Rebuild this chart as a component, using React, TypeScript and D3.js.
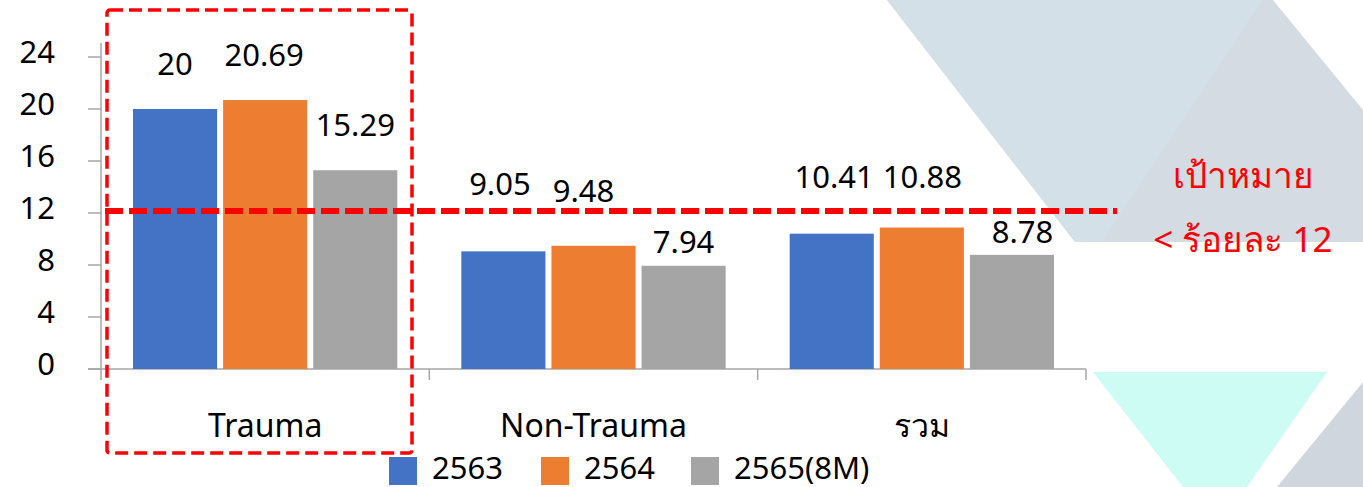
import React from "react";
import * as d3 from "d3";

const categories = ["Trauma", "Non-Trauma", "รวม"];
const seriesNames = ["2563", "2564", "2565(8M)"];
const values2563 = [20, 9.05, 10.41];
const values2564 = [20.69, 9.48, 10.88];
const values2565 = [15.29, 7.94, 8.78];
const yTicks = [0, 4, 8, 12, 16, 20, 24];
const targetValue = 12;
const targetLines = ["เป้าหมาย", "< ร้อยละ 12"];

const seriesValues = [values2563, values2564, values2565];
const colors = ["#4472c4", "#ed7d31", "#a5a5a5"];

// hand-placed data label nudges (dx, gap above bar top) per category/series
const labelNudge: [number, number][][] = [
  [[0, 34], [-1, 34], [0, 34]],
  [[-3.5, 56], [-10, 44], [0, 13]],
  [[2.5, 46], [0.5, 40], [10.5, 12]],
];

const W = 1363;
const H = 487;
const FONT = "'Noto Sans', 'Open Sans', sans-serif";

export default function App() {
  const x0 = d3.scaleBand<string>().domain(categories).range([101, 1086]).padding(0);
  const bw = x0.bandwidth();
  const x1 = d3
    .scaleBand<string>()
    .domain(seriesNames)
    .range([bw * 0.0975, bw * 0.9025])
    .paddingInner(1 / 15)
    .paddingOuter(0);
  const y = d3.scaleLinear().domain([0, 24]).range([369, 57]);
  const axisColor = "#a6a6a6";
  const yTarget = y(targetValue) - 2;

  return (
    <svg
      width={W}
      height={H}
      style={{ position: "absolute", left: 0, top: 0, background: "#fff" }}
      fontFamily={FONT}
    >
      {/* decorative background shapes */}
      <g>
        <polygon points="887,0 1273,0 1363,110 1363,242 1075,242" fill="#d4dbe2" />
        <polygon points="887,0 1262,0 1102,242 1075,242" fill="#d3e0e8" />
        <polygon points="1093,372 1327,372 1247,487 1183,487" fill="#ccfcf3" />
        <polygon points="1277,487 1363,382 1363,487" fill="#cfd6dd" />
      </g>

      {/* y axis */}
      <line x1={101} x2={101} y1={43} y2={380} stroke={axisColor} strokeWidth={1.5} />
      {yTicks.map((t) => (
        <g key={t}>
          <line x1={88} x2={101} y1={y(t)} y2={y(t)} stroke={axisColor} strokeWidth={1.5} />
          <text x={55} y={y(t) + 6} textAnchor="end" fontSize={31} fill="#000">
            {t}
          </text>
        </g>
      ))}

      {/* x axis */}
      <line x1={88} x2={1086} y1={y(0)} y2={y(0)} stroke={axisColor} strokeWidth={1.5} />
      {categories.map((c) => (
        <line
          key={c}
          x1={(x0(c) ?? 0) + bw}
          x2={(x0(c) ?? 0) + bw}
          y1={y(0)}
          y2={380}
          stroke={axisColor}
          strokeWidth={1.5}
        />
      ))}

      {/* bars */}
      {categories.map((c, ci) => (
        <g key={c} transform={`translate(${x0(c)},0)`}>
          {seriesNames.map((s, si) => {
            const v = seriesValues[si][ci];
            return (
              <rect
                key={s}
                x={x1(s)}
                y={y(v)}
                width={x1.bandwidth()}
                height={y(0) - y(v)}
                fill={colors[si]}
              />
            );
          })}
        </g>
      ))}

      {/* value labels */}
      {categories.map((c, ci) =>
        seriesNames.map((s, si) => {
          const v = seriesValues[si][ci];
          const [dx, gap] = labelNudge[ci][si];
          return (
            <text
              key={c + s}
              x={(x0(c) ?? 0) + (x1(s) ?? 0) + x1.bandwidth() / 2 + dx}
              y={y(v) - gap}
              textAnchor="middle"
              fontSize={31}
              fill="#000"
            >
              {v}
            </text>
          );
        })
      )}

      {/* category labels */}
      {categories.map((c) => (
        <text
          key={c}
          x={(x0(c) ?? 0) + bw / 2}
          y={437}
          textAnchor="middle"
          fontSize={32}
          fill="#000"
        >
          {c}
        </text>
      ))}

      {/* target line */}
      <line
        x1={105}
        x2={1117}
        y1={yTarget}
        y2={yTarget}
        stroke="#ff0000"
        strokeWidth={6}
        strokeDasharray="18 6"
      />
      {targetLines.map((t, i) => (
        <text
          key={t}
          x={1243}
          y={188 + i * 64}
          textAnchor="middle"
          fontSize={35}
          fill="#ff0000"
        >
          {t}
        </text>
      ))}

      {/* highlight frame */}
      <rect
        x={107}
        y={10}
        width={305}
        height={443}
        rx={3}
        fill="none"
        stroke="#ff0000"
        strokeWidth={3.5}
        strokeDasharray="13 6"
      />

      {/* legend */}
      {seriesNames.map((s, i) => {
        const lx = [389, 541, 691][i];
        return (
          <g key={s}>
            <rect x={lx} y={457} width={28} height={28} fill={colors[i]} />
            <text x={lx + 43} y={479} fontSize={31} fill="#000">
              {s}
            </text>
          </g>
        );
      })}
    </svg>
  );
}
